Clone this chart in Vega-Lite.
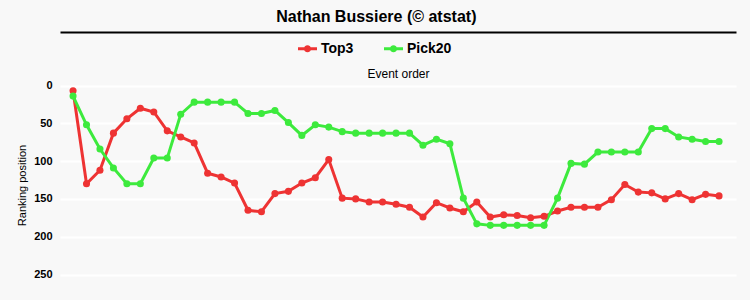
{
  "$schema": "https://vega.github.io/schema/vega-lite/v6.json",
  "width": 676,
  "height": 210,
  "autosize": {"type": "none"},
  "padding": {"left": 60, "top": 80, "right": 14, "bottom": 10},
  "background": "#f8f8f8",
  "config": {
    "font": "Liberation Sans",
    "view": {"stroke": null},
    "axis": {"labelFont": "Liberation Sans", "titleFont": "Liberation Sans"},
    "legend": {"labelFont": "Liberation Sans"}
  },
  "title": {
    "text": "Nathan Bussiere (© atstat)",
    "font": "Liberation Sans",
    "fontSize": 16,
    "fontWeight": "bold",
    "color": "#000000",
    "anchor": "middle",
    "frame": "bounds",
    "offset": 7
  },
  "data": {
    "values": [
      {"event": 1, "series": "Top3", "rank": 7},
      {"event": 2, "series": "Top3", "rank": 130},
      {"event": 3, "series": "Top3", "rank": 112},
      {"event": 4, "series": "Top3", "rank": 63},
      {"event": 5, "series": "Top3", "rank": 44},
      {"event": 6, "series": "Top3", "rank": 30},
      {"event": 7, "series": "Top3", "rank": 35},
      {"event": 8, "series": "Top3", "rank": 60},
      {"event": 9, "series": "Top3", "rank": 68},
      {"event": 10, "series": "Top3", "rank": 76},
      {"event": 11, "series": "Top3", "rank": 116},
      {"event": 12, "series": "Top3", "rank": 121},
      {"event": 13, "series": "Top3", "rank": 129},
      {"event": 14, "series": "Top3", "rank": 165},
      {"event": 15, "series": "Top3", "rank": 167},
      {"event": 16, "series": "Top3", "rank": 143},
      {"event": 17, "series": "Top3", "rank": 140},
      {"event": 18, "series": "Top3", "rank": 129},
      {"event": 19, "series": "Top3", "rank": 122},
      {"event": 20, "series": "Top3", "rank": 98},
      {"event": 21, "series": "Top3", "rank": 149},
      {"event": 22, "series": "Top3", "rank": 150},
      {"event": 23, "series": "Top3", "rank": 154},
      {"event": 24, "series": "Top3", "rank": 154},
      {"event": 25, "series": "Top3", "rank": 157},
      {"event": 26, "series": "Top3", "rank": 161},
      {"event": 27, "series": "Top3", "rank": 174},
      {"event": 28, "series": "Top3", "rank": 155},
      {"event": 29, "series": "Top3", "rank": 162},
      {"event": 30, "series": "Top3", "rank": 167},
      {"event": 31, "series": "Top3", "rank": 154},
      {"event": 32, "series": "Top3", "rank": 174},
      {"event": 33, "series": "Top3", "rank": 171},
      {"event": 34, "series": "Top3", "rank": 172},
      {"event": 35, "series": "Top3", "rank": 175},
      {"event": 36, "series": "Top3", "rank": 173},
      {"event": 37, "series": "Top3", "rank": 166},
      {"event": 38, "series": "Top3", "rank": 161},
      {"event": 39, "series": "Top3", "rank": 161},
      {"event": 40, "series": "Top3", "rank": 161},
      {"event": 41, "series": "Top3", "rank": 151},
      {"event": 42, "series": "Top3", "rank": 131},
      {"event": 43, "series": "Top3", "rank": 141},
      {"event": 44, "series": "Top3", "rank": 142},
      {"event": 45, "series": "Top3", "rank": 150},
      {"event": 46, "series": "Top3", "rank": 143},
      {"event": 47, "series": "Top3", "rank": 151},
      {"event": 48, "series": "Top3", "rank": 144},
      {"event": 49, "series": "Top3", "rank": 146},
      {"event": 1, "series": "Pick20", "rank": 14},
      {"event": 2, "series": "Pick20", "rank": 52},
      {"event": 3, "series": "Pick20", "rank": 84},
      {"event": 4, "series": "Pick20", "rank": 109},
      {"event": 5, "series": "Pick20", "rank": 130},
      {"event": 6, "series": "Pick20", "rank": 130},
      {"event": 7, "series": "Pick20", "rank": 96},
      {"event": 8, "series": "Pick20", "rank": 96},
      {"event": 9, "series": "Pick20", "rank": 38},
      {"event": 10, "series": "Pick20", "rank": 22},
      {"event": 11, "series": "Pick20", "rank": 22},
      {"event": 12, "series": "Pick20", "rank": 22},
      {"event": 13, "series": "Pick20", "rank": 22},
      {"event": 14, "series": "Pick20", "rank": 37},
      {"event": 15, "series": "Pick20", "rank": 37},
      {"event": 16, "series": "Pick20", "rank": 33},
      {"event": 17, "series": "Pick20", "rank": 49},
      {"event": 18, "series": "Pick20", "rank": 66},
      {"event": 19, "series": "Pick20", "rank": 52},
      {"event": 20, "series": "Pick20", "rank": 55},
      {"event": 21, "series": "Pick20", "rank": 61},
      {"event": 22, "series": "Pick20", "rank": 63},
      {"event": 23, "series": "Pick20", "rank": 63},
      {"event": 24, "series": "Pick20", "rank": 63},
      {"event": 25, "series": "Pick20", "rank": 63},
      {"event": 26, "series": "Pick20", "rank": 63},
      {"event": 27, "series": "Pick20", "rank": 79},
      {"event": 28, "series": "Pick20", "rank": 71},
      {"event": 29, "series": "Pick20", "rank": 77},
      {"event": 30, "series": "Pick20", "rank": 149},
      {"event": 31, "series": "Pick20", "rank": 183},
      {"event": 32, "series": "Pick20", "rank": 185},
      {"event": 33, "series": "Pick20", "rank": 185},
      {"event": 34, "series": "Pick20", "rank": 185},
      {"event": 35, "series": "Pick20", "rank": 185},
      {"event": 36, "series": "Pick20", "rank": 185},
      {"event": 37, "series": "Pick20", "rank": 149},
      {"event": 38, "series": "Pick20", "rank": 103},
      {"event": 39, "series": "Pick20", "rank": 104},
      {"event": 40, "series": "Pick20", "rank": 88},
      {"event": 41, "series": "Pick20", "rank": 88},
      {"event": 42, "series": "Pick20", "rank": 88},
      {"event": 43, "series": "Pick20", "rank": 88},
      {"event": 44, "series": "Pick20", "rank": 57},
      {"event": 45, "series": "Pick20", "rank": 57},
      {"event": 46, "series": "Pick20", "rank": 68},
      {"event": 47, "series": "Pick20", "rank": 71},
      {"event": 48, "series": "Pick20", "rank": 74},
      {"event": 49, "series": "Pick20", "rank": 74}
    ]
  },
  "encoding": {
    "y": {
      "field": "rank",
      "type": "quantitative",
      "scale": {"domain": [-7.3, 270.5], "reverse": true, "nice": false, "zero": false},
      "axis": {
        "title": "Ranking position",
        "titleFontSize": 11,
        "titleFontWeight": "normal",
        "titleColor": "#000000",
        "titlePadding": 6,
        "values": [0, 50, 100, 150, 200, 250],
        "labelFontSize": 11,
        "labelFontWeight": "bold",
        "labelColor": "#000000",
        "labelPadding": 8,
        "ticks": false,
        "domain": false,
        "grid": true,
        "gridColor": "#ffffff",
        "gridWidth": 2
      }
    },
    "color": {
      "field": "series",
      "type": "nominal",
      "sort": ["Top3", "Pick20"],
      "scale": {"domain": ["Top3", "Pick20"], "range": ["#ee3333", "#3dea3d"]},
      "legend": {
        "title": null,
        "orient": "none",
        "direction": "horizontal",
        "legendX": 238,
        "legendY": -41,
        "columnPadding": 30,
        "labelFontSize": 14,
        "labelFontWeight": "bold",
        "labelColor": "#000000",
        "labelOffset": 4,
        "symbolType": "M-1,-0.16H1V0.16H-1Z M-0.38,0A0.38,0.38,0,1,1,0.38,0A0.38,0.38,0,1,1,-0.38,0Z",
        "symbolSize": 361,
        "symbolStrokeWidth": 0,
        "encode": {
          "symbols": {
            "update": {
              "fill": {"scale": "color", "field": "value"},
              "fillOpacity": {"value": 1}
            }
          }
        }
      }
    }
  },
  "resolve": {"axis": {"x": "independent"}},
  "layer": [
    {
      "mark": {"type": "line", "strokeWidth": 3},
      "encoding": {
        "x": {
          "field": "event",
          "type": "quantitative",
          "scale": {"domain": [0.03, 50.26], "nice": false, "zero": false},
          "axis": {
            "orient": "top",
            "title": "Event order",
            "titleFontSize": 12,
            "titleFontWeight": "normal",
            "titleColor": "#000000",
            "titlePadding": 0,
            "labels": false,
            "ticks": false,
            "domain": false,
            "grid": false
          }
        }
      }
    },
    {
      "mark": {"type": "point", "filled": true, "size": 50, "opacity": 1},
      "encoding": {
        "x": {
          "field": "event",
          "type": "quantitative",
          "scale": {"domain": [0.03, 50.26], "nice": false, "zero": false},
          "axis": {
            "orient": "top",
            "offset": 48,
            "title": null,
            "labels": false,
            "ticks": false,
            "grid": false,
            "domain": true,
            "domainColor": "#000000",
            "domainWidth": 2
          }
        }
      }
    }
  ]
}
